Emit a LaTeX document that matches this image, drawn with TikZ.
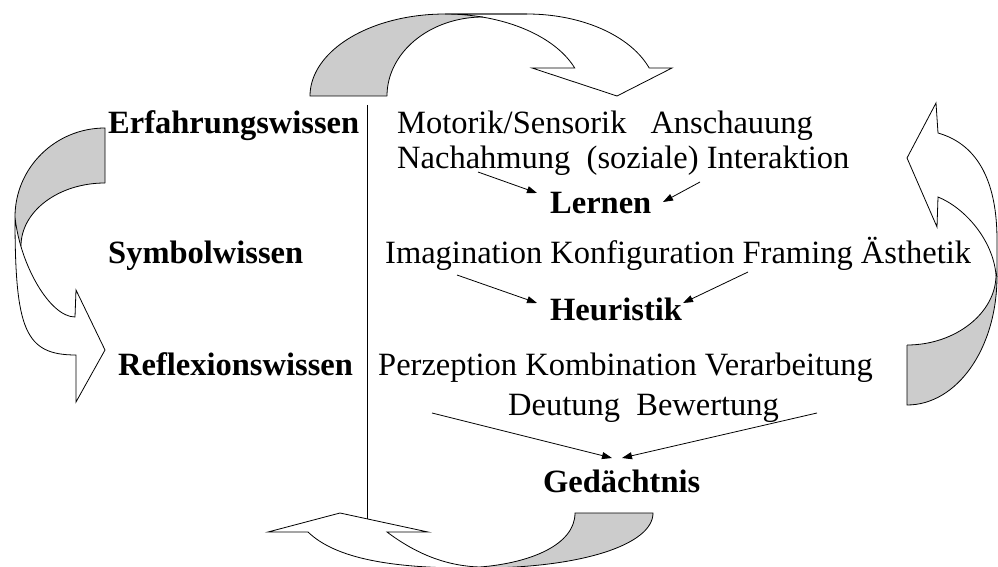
\documentclass[tikz,border=0pt]{standalone}
\usepackage{fontspec}
\setmainfont{Liberation Serif}
\usetikzlibrary{arrows.meta}
\begin{document}
\begin{tikzpicture}[x=1pt,y=-1pt,
  txt/.style={font=\fontsize{32.5}{36}\selectfont, anchor=base west, inner sep=0pt},
  btxt/.style={txt, font=\fontsize{32.5}{36}\selectfont\bfseries},
  band/.style={draw=black, line width=0.8pt, fill=white, line join=miter},
  back/.style={fill=gray!40},
  edge/.style={draw=black, line width=0.8pt},
  pfeil/.style={draw=black, line width=0.8pt, -{Triangle[length=10pt,width=7pt]}}
]
\useasboundingbox (0,0) rectangle (998,567);
\clip (0,0) rectangle (998,567);

% ---------- top curved arrow ----------
\fill[back] plot[domain=180:90,samples=40] ({445+135*cos(\x)},{96-82*sin(\x)})
  -- plot[domain=90:74,samples=10] ({445+138*cos(\x)},{96-82*sin(\x)})
  -- plot[domain=90:180,samples=40] ({483+96*cos(\x)},{96-79*sin(\x)}) -- cycle;
\draw[band] plot[domain=90:20,samples=40] ({527+130*cos(\x)},{96-82*sin(\x)})
  -- (672,68) -- (617,96) -- (532,68)
  -- plot[domain=20:90,samples=40] ({445+138*cos(\x)},{96-82*sin(\x)}) -- cycle;
\draw[edge] (387,96) -- (310,96) -- plot[domain=180:90,samples=40] ({445+135*cos(\x)},{96-82*sin(\x)}) -- (527,14);
\draw[edge] plot[domain=90:180,samples=40] ({483+96*cos(\x)},{96-79*sin(\x)});

% ---------- left curved arrow ----------
\fill[back] (105,128) .. controls (55.3,128) and (15,167.8) .. (15,217)
  .. controls (15,227) and (17,238) .. (21,246)
  .. controls (21,211.2) and (58.6,183) .. (105,183) -- cycle;
\draw[band] (15,217) .. controls (15,330) and (25,355) .. (76,355)
  -- (76,402) -- (105,350) -- (76,290) -- (75,317)
  .. controls (50,317) and (20,265) .. (15,217) -- cycle;
\draw[edge] (105,183) -- (105,128) .. controls (55.3,128) and (15,167.8) .. (15,217);
\draw[edge] (105,183) .. controls (58.6,183) and (21,211.2) .. (21,246);

% ---------- right curved arrow ----------
\fill[back] (907,405) .. controls (956.7,405) and (997,349) .. (997,276)
  -- (996,275) .. controls (996,312.8) and (955.6,345) .. (907,345) -- cycle;
\draw[band] (938,133) .. controls (980,145) and (997,185) .. (997,240) -- (997,276)
  -- (996,275) .. controls (993,240) and (965,208) .. (938,197)
  -- (937,227) -- (907,158) -- (936,103) -- cycle;
\draw[edge] (907,345) -- (907,405) .. controls (956.7,405) and (997,349) .. (997,276);
\draw[edge] (907,345) .. controls (955.6,345) and (996,312.8) .. (996,275);

% ---------- bottom curved arrow ----------
\fill[back] (575,513) -- (653,513) .. controls (653,545) and (580,568) .. (480,568)
  -- (480,567) .. controls (530,563) and (575,545) .. (575,513) -- cycle;
\draw[band] (387,532) .. controls (415,553) and (445,566) .. (480,567) -- (480,568)
  .. controls (390,569) and (335,558) .. (308,532)
  -- (268,532) -- (340,513) -- (428,532) -- cycle;
\draw[edge] (480,568) .. controls (580,568) and (653,545) .. (653,513) -- (575,513)
  .. controls (575,545) and (530,563) .. (480,567);

% ---------- separator ----------
\coordinate (septop) at (367,105);
\coordinate (sepbot) at (367,519);
\draw[edge] (septop) -- (sepbot);

% ---------- texts ----------
\node[btxt] (erf) at (108,133) {Erfahrungswissen};
\node[txt] (mot) at (397,133) {Motorik/Sensorik\hspace{24pt}Anschauung};
\node[txt] (nach) at (397,168) {Nachahmung\ \ (soziale) Interaktion};
\node[btxt] (lern) at (550,213) {Lernen};
\node[btxt] (sym) at (108,263) {Symbolwissen};
\node[txt] (ima) at (385,263) {Imagination Konfiguration Framing Ästhetik};
\node[btxt] (heu) at (550,320) {Heuristik};
\node[btxt] (refl) at (118,375) {Reflexionswissen};
\node[txt] (perz) at (378,375) {Perzeption Kombination Verarbeitung};
\node[txt] (deu) at (508,415) {Deutung\ \ Bewertung};
\node[btxt] (ged) at (543,492) {Gedächtnis};

% ---------- small arrows ----------
\coordinate (la1) at (478,172);  \coordinate (le1) at (537,193);
\coordinate (la2) at (700,182);  \coordinate (le2) at (663,202);
\coordinate (ha1) at (457,275);  \coordinate (he1) at (537,303);
\coordinate (ha2) at (748,272);  \coordinate (he2) at (683,303);
\coordinate (ga1) at (432,413);  \coordinate (ge1) at (612,458);
\coordinate (ga2) at (817,413);  \coordinate (ge2) at (622,458);
\draw[pfeil] (la1) -- (le1);
\draw[pfeil] (la2) -- (le2);
\draw[pfeil] (ha1) -- (he1);
\draw[pfeil] (ha2) -- (he2);
\draw[pfeil] (ga1) -- (ge1);
\draw[pfeil] (ga2) -- (ge2);
\end{tikzpicture}
\end{document}
